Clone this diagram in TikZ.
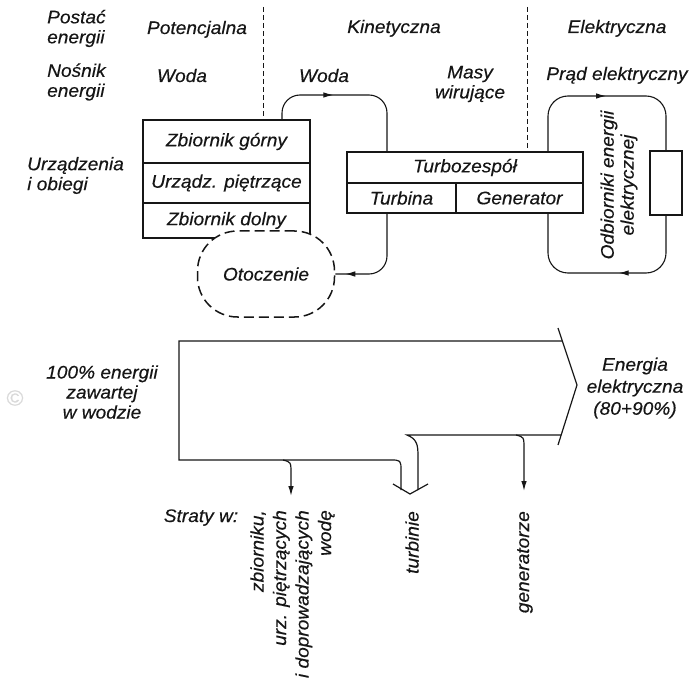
\documentclass[tikz,border=0pt]{standalone}
\usepackage{fontspec}
\setmainfont{Liberation Sans}[FakeStretch=1.05, FakeBold=0.35]
\usetikzlibrary{arrows.meta,decorations.markings}
\definecolor{ink}{HTML}{161616}
\begin{document}
\begin{tikzpicture}[x=1pt,y=-1pt, font=\fontsize{18.2}{20}\selectfont\itshape,
  lbl/.style={inner sep=0pt, text=ink},
  cell/.style={draw=ink, line width=1.4pt, inner sep=0pt, text=ink},
  conn/.style={draw=ink, line width=1.1pt, rounded corners=18pt},
  arrowend/.style={-{Latex[length=10pt,width=5.5pt]}},
  midarrow/.style={postaction=decorate, decoration={markings, mark=at position #1 with {\arrow{Latex[length=10pt,width=5.5pt]}}}},
  divider/.style={draw=ink, line width=0.9pt, dash pattern=on 5pt off 3pt},
  band/.style={draw=ink, line width=1.2pt}]
\useasboundingbox (0,0) rectangle (691,679);

% header labels
\node[lbl, align=left, anchor=west] (postac) at (47,28.5) {Postać\\energii};
\node[lbl, align=left, anchor=west] (nosnik) at (47,82) {Nośnik\\energii};
\node[lbl, align=left, anchor=west] (urz) at (27,175.5) {Urządzenia\\i obiegi};
\node[lbl, anchor=base] (pot) at (197,34) {Potencjalna};
\node[lbl, anchor=base] (kin) at (394,33) {Kinetyczna};
\node[lbl, anchor=base] (ele) at (617,33) {Elektryczna};
\node[lbl, anchor=base] (woda1) at (182,82) {Woda};
\node[lbl, anchor=base] (woda2) at (324,82) {Woda};
\node[lbl, align=center] (masy) at (470,84) {Masy\\wirujące};
\node[lbl, anchor=base] (prad) at (617,80) {Prąd elektryczny};

% separators
\draw[divider] (263,7) -- (263,120);
\draw[divider] (527,7) -- (527,152);

% left box
\node[cell, minimum width=167pt, minimum height=43pt] (zb1) at (226.5,141.5) {Zbiornik górny};
\node[cell, minimum width=167pt, minimum height=40pt] (zb2) at (226.5,183) {Urządz. piętrzące};
\node[cell, minimum width=167pt, minimum height=35pt] (zb3) at (226.5,220.5) {Zbiornik dolny};

% turbozespol
\node[cell, minimum width=236pt, minimum height=31pt] (tz) at (465,167.5) {Turbozespół};
\node[cell, minimum width=109pt, minimum height=30pt] (tb) at (401.5,198) {Turbina};
\node[cell, minimum width=127pt, minimum height=30pt] (gen) at (519.5,198) {Generator};

% otoczenie
\node[draw=ink, line width=1.5pt, dash pattern=on 10pt off 5pt, rounded corners=40pt, fill=white,
      minimum width=137pt, minimum height=86pt, text=ink, inner sep=0pt] (ot) at (266,274) {Otoczenie};

% receiver
\node[cell, minimum width=32pt, minimum height=64pt] (odb) at (666,183) {};
\node[lbl, rotate=90, align=center] (odbtxt) at (619,185) {Odbiorniki energii\\elektrycznej};

% water loop
\draw[conn, midarrow=0.4] (282,120) |- (387,95) -- (387,152);
\draw[conn, midarrow=-10pt] (387,213) |- (ot.east);

% electric loop
\draw[conn, rounded corners=20pt, midarrow=0.5] (548,152) |- (666,96) -- (odb.north);
\draw[conn, rounded corners=20pt, midarrow=0.44] (odb.south) |- (548,273) -- (548,213);

% Sankey diagram
\draw[band] (562,341) -- (179,341) -- (179,460) -- (390,460) .. controls (401,460) .. (401,471) -- (401,490);
\draw[band] (558,328) -- (577,385) -- (558,445);
\draw[band] (561,435) -- (407,435) .. controls (417,439) and (418,445) .. (418,456) -- (418,490);
\draw[band] (393,484) -- (410,494) -- (428,484);
\draw[band, arrowend] (283,460) .. controls (291,462) .. (291,474) -- (291,496);
\draw[band, arrowend] (516,435) .. controls (524,437) .. (524,449) -- (524,491);

\node[lbl, align=center] (in) at (102,392) {100\% energii\\zawartej\\w wodzie};
\node[lbl, align=center, font=\fontsize{18.2}{22}\selectfont\itshape] (out) at (635,388) {Energia\\elektryczna\\(80+90\%)};
\node[text=black!15, inner sep=0pt, font=\fontsize{22}{22}\selectfont\upshape] (copy) at (15,398) {©};

\node[lbl, anchor=base] (straty) at (201,522) {Straty w:};
\node[lbl, rotate=90, anchor=east, align=right, font=\fontsize{18.2}{22.5}\selectfont\itshape] (s1) at (292.5,510) {zbiorniku,\\urz. piętrzących\\i doprowadzających\\wodę};
\node[lbl, rotate=90, anchor=east] (s2) at (412,511) {turbinie};
\node[lbl, rotate=90, anchor=east] (s3) at (525,511) {generatorze};
\end{tikzpicture}
\end{document}
